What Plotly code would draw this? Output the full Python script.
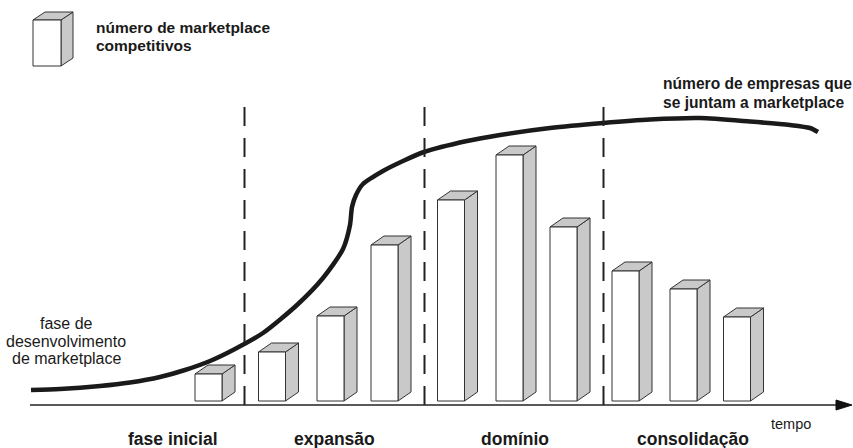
import plotly.graph_objects as go

# ---- data ----
bar_time = [208.5, 272, 330.5, 384.5, 451, 509.5, 563.5, 625.5, 683.5, 737]
bar_values = [27, 49, 85, 156, 201, 246, 174, 130, 112, 84]

curve_time = [31, 60, 100, 130, 160, 185, 210, 235, 263, 297, 323, 343, 350, 352, 356, 363, 383,
              403, 424, 467, 500, 550, 603, 650, 700, 750, 790, 810, 818]
curve_values = [11, 12, 15, 18.5, 24, 31, 40, 52, 68, 96, 123, 152, 176, 194, 206, 217, 230,
                240, 249, 260, 266, 273, 278, 281.5, 283, 279.5, 276, 273, 269]

phase_bounds = [244.5, 424.5, 603.5]
phase_labels = ["fase inicial", "expansão", "domínio", "consolidação"]
phase_label_pos = [173, 334.5, 515, 693]

W, H = 853, 448
BASE = 401  # pixel row of the bars' base


def Y(py):
    return BASE - py


FRONT_W = 27
DX, DY = 13, 9
GRAY = "#c9c9c9"
EDGE = "#333333"
FONT = "Liberation Sans, Arial, Helvetica, sans-serif"

fig = go.Figure()
shapes = []


def box(xc, y0, h, w, dx, dy):
    x0, x1 = xc - w / 2, xc + w / 2
    s = []
    s.append(dict(type="path",
                  path=f"M {x1},{y0} L {x1+dx},{y0+dy} L {x1+dx},{y0+h+dy} L {x1},{y0+h} Z",
                  fillcolor=GRAY, line=dict(color=EDGE, width=1), layer="above"))
    s.append(dict(type="path",
                  path=f"M {x0},{y0+h} L {x0+dx},{y0+h+dy} L {x1+dx},{y0+h+dy} L {x1},{y0+h} Z",
                  fillcolor=GRAY, line=dict(color=EDGE, width=1), layer="above"))
    s.append(dict(type="rect", x0=x0, x1=x1, y0=y0, y1=y0 + h,
                  fillcolor="white", line=dict(color=EDGE, width=1), layer="above"))
    return s


for t, v in zip(bar_time, bar_values):
    shapes += box(t, 0, v, FRONT_W, DX, DY)

# legend icon
shapes += box(47, Y(66), 46, 28, 12, 8)

# dashed phase separators
for b in phase_bounds:
    shapes.append(dict(type="line", x0=b, x1=b, y0=Y(107), y1=Y(405),
                       line=dict(color="#222222", width=2, dash="19px,12px")))

# time axis with arrow
shapes.append(dict(type="line", x0=30, x1=840, y0=Y(405), y1=Y(405),
                   line=dict(color="#222222", width=1.5)))
shapes.append(dict(type="path",
                   path=f"M 836,{Y(400)} L 852,{Y(405)} L 836,{Y(410)} Z",
                   fillcolor="#111111", line=dict(color="#111111", width=1)))

# S-curve
fig.add_trace(go.Scatter(x=curve_time, y=curve_values, mode="lines",
                         line=dict(color="#1a1a1a", width=4.5, shape="spline", smoothing=0.7),
                         hoverinfo="skip", showlegend=False))

ann = []


def text(s, x, py, size, bold=False, xanchor="left"):
    ann.append(dict(x=x, y=Y(py), xref="x", yref="y", text=(f"<b>{s}</b>" if bold else s),
                    showarrow=False, xanchor=xanchor, yanchor="middle",
                    font=dict(family=FONT, size=size, color="#1a1a1a")))


text("número de marketplace", 94, 27, 15.5, bold=True)
text("competitivos", 94, 45, 15.5, bold=True)
text("número de empresas que", 661, 83, 15.6, bold=True)
text("se juntam a marketplace", 661, 102, 15.6, bold=True)
text("fase de", 66, 323, 16, xanchor="center")
text("desenvolvimento", 66, 341, 16, xanchor="center")
text("de marketplace", 66, 358, 16, xanchor="center")
text("tempo", 791, 424, 14.5, xanchor="center")
for lab, pos in zip(phase_labels, phase_label_pos):
    text(lab, pos, 439, 17.5, bold=True, xanchor="center")

fig.update_layout(
    width=W, height=H, margin=dict(l=0, r=0, t=0, b=0),
    paper_bgcolor="white", plot_bgcolor="white",
    xaxis=dict(range=[0, W], visible=False, fixedrange=True),
    yaxis=dict(range=[Y(H), Y(0)], visible=False, fixedrange=True),
    shapes=shapes, annotations=ann, showlegend=False,
)

fig.write_html("out.html")
